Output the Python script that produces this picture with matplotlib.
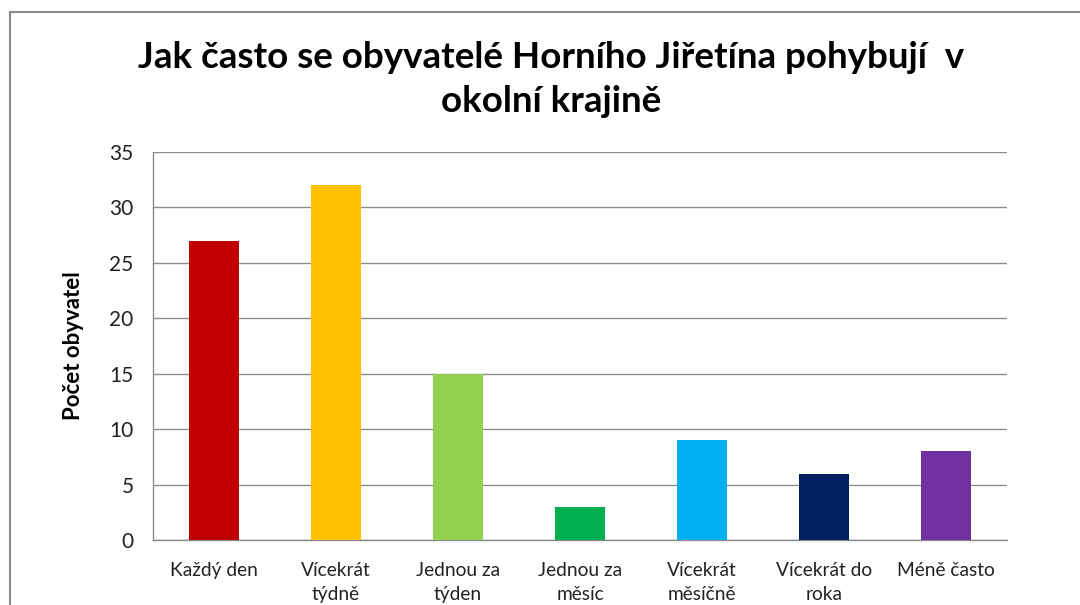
import matplotlib
matplotlib.use("Agg")
import matplotlib.pyplot as plt
from matplotlib.lines import Line2D

plt.rcParams['font.family'] = ['Lato', 'DejaVu Sans']

categories = ["Každý den", "Vícekrát\ntýdně", "Jednou za\ntýden", "Jednou za\nměsíc",
              "Vícekrát\nměsíčně", "Vícekrát do\nroka", "Méně často"]
values = [27, 32, 15, 3, 9, 6, 8]
colors = ["#C00000", "#FFC000", "#92D050", "#00B050", "#00B0F0", "#002060", "#7030A0"]
yticks = [0, 5, 10, 15, 20, 25, 30, 35]
title = "Jak často se obyvatelé Horního Jiřetína pohybují  v\nokolní krajině"
ylabel = "Počet obyvatel"

fig = plt.figure(figsize=(10.8, 6.05), dpi=100)
ax = fig.add_axes([0.1417, 0.1074, 0.7907, 0.6414])

x = list(range(len(categories)))
ax.bar(x, values, width=0.41, color=colors, zorder=3)
ax.set_xlim(-0.5, len(categories) - 0.5)
ax.set_ylim(0, 35)
ax.set_yticks(yticks)
ax.set_xticks(x)
ax.set_xticklabels(categories, fontsize=13.8, color="#222222", linespacing=1.45)
ax.tick_params(axis='y', length=0, pad=14, labelsize=15, labelcolor="#222222")
ax.tick_params(axis='x', length=0, pad=16)
ax.yaxis.grid(True, color="#8c8c8c", linewidth=1.0, zorder=0)
for s in ["top", "right"]:
    ax.spines[s].set_visible(False)
for s in ["left", "bottom"]:
    ax.spines[s].set_color("#8c8c8c")
    ax.spines[s].set_linewidth(1.0)
ax.set_ylabel(ylabel, fontsize=16, fontweight="bold", labelpad=18)

fig.text(0.51, 0.805, title, ha="center", va="bottom", fontsize=26.5, fontweight="bold",
         linespacing=1.4)

# outer chart border (top and left visible)
fig.add_artist(Line2D([10/1080, 10/1080], [0, 1 - 12/605], color="#8a8a8a", linewidth=1.5,
                      transform=fig.transFigure))
fig.add_artist(Line2D([10/1080, 1], [1 - 12/605, 1 - 12/605], color="#8a8a8a", linewidth=1.5,
                      transform=fig.transFigure))

fig.savefig("out.png", dpi=100)
